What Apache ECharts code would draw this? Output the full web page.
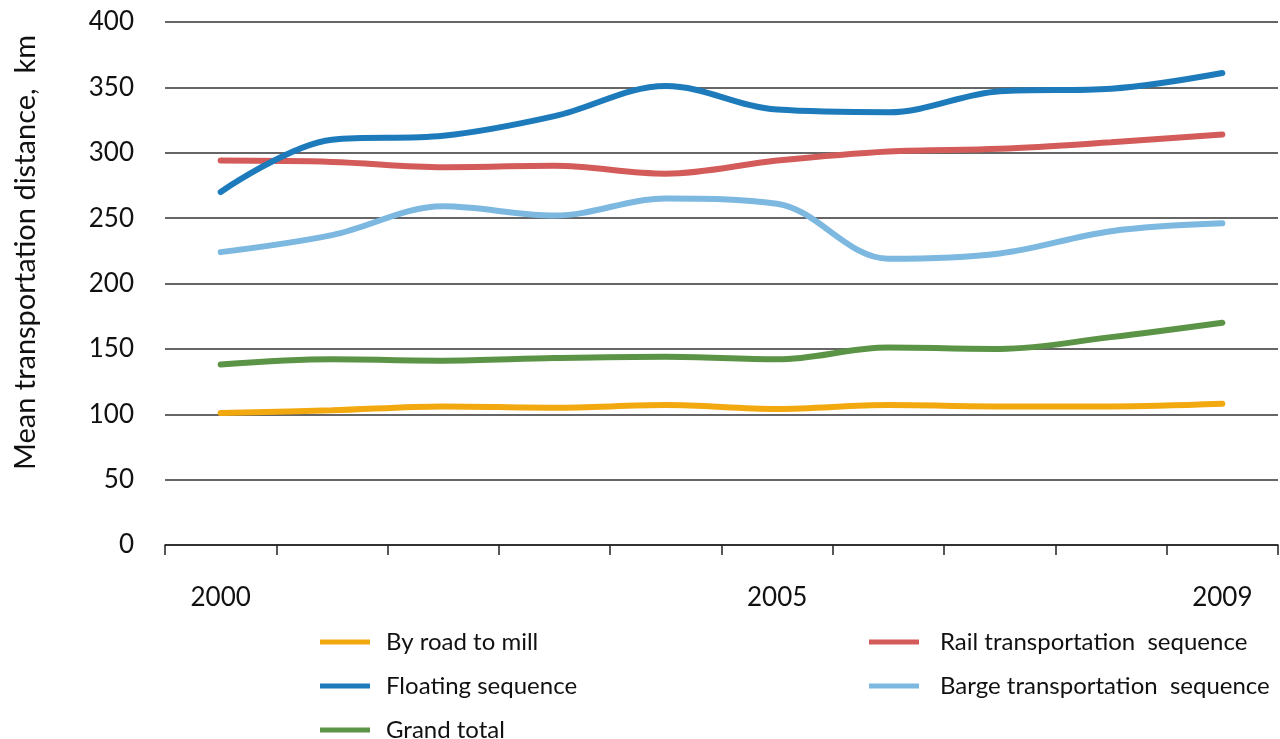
<!DOCTYPE html>
<html>
<head>
<meta charset="utf-8">
<script src="https://cdn.jsdelivr.net/npm/echarts@6/dist/echarts.min.js"></script>
<style>
html,body{margin:0;padding:0;background:#fff;}
#chart{width:1280px;height:739px;}
</style>
</head>
<body>
<div id="chart"></div>
<script>
const years = ['2000','2001','2002','2003','2004','2005','2006','2007','2008','2009'];
const shownYears = ['2000','2005','2009'];
const yTicks = [0,50,100,150,200,250,300,350,400];

const byRoad   = [101, 103, 106, 105, 107, 104, 107, 106, 106, 108];
const floating = [270, 310, 313, 328, 351, 333, 331, 347, 349, 361];
const grand    = [138, 142, 141, 143, 144, 142, 151, 150, 159, 170];
const rail     = [294, 293, 289, 290, 284, 294, 301, 303, 308, 314];
const barge    = [224, 237, 259, 252, 265, 261, 219, 223, 240, 246];

const names = {
  road: 'By road to mill',
  floating: 'Floating sequence',
  grand: 'Grand total',
  rail: 'Rail transportation  sequence',
  barge: 'Barge transportation  sequence'
};
const colors = {
  road: '#F2A90F',
  floating: '#1D7BBB',
  grand: '#5B9446',
  rail: '#D35C5A',
  barge: '#7CB8E0'
};

const FONT = 'Lato, "Open Sans", sans-serif';

function mk(key, data) {
  return {
    name: names[key], type: 'line', data: data, smooth: 0.35,
    symbol: 'none', lineStyle: {width: 6, color: colors[key], cap: 'round'},
    itemStyle: {color: colors[key]}, z: 3
  };
}

const chart = echarts.init(document.getElementById('chart'));
chart.setOption({
  animation: false,
  backgroundColor: '#fff',
  grid: {left: 165, right: 2, top: 22, bottom: 194},
  xAxis: {
    type: 'category', data: years, boundaryGap: true,
    axisLine: {lineStyle: {color: '#222', width: 1.5}},
    axisTick: {show: true, length: 10, interval: 0, lineStyle: {color: '#222', width: 1.5}},
    axisLabel: {
      interval: 0, margin: 40, fontFamily: FONT, fontSize: 26, color: '#111',
      formatter: v => shownYears.indexOf(v) >= 0 ? v : ''
    }
  },
  yAxis: {
    type: 'value', min: yTicks[0], max: yTicks[yTicks.length-1], interval: 50,
    name: 'Mean transportation distance,  km', nameLocation: 'middle', nameGap: 125,
    nameTextStyle: {fontFamily: FONT, fontSize: 29, color: '#111', padding: [0,0,0,62]},
    axisLine: {show: false}, axisTick: {show: false},
    axisLabel: {fontFamily: FONT, fontSize: 26, color: '#111', margin: 31},
    splitLine: {lineStyle: {color: '#333', width: 1.5}}
  },
  legend: [
    {
      data: [names.road, names.floating, names.grand],
      orient: 'vertical', left: 320, top: 630, height: 130, itemGap: 20,
      icon: 'rect', itemWidth: 50, itemHeight: 5, padding: 0,
      textStyle: {fontFamily: FONT, fontSize: 24, color: '#111', padding: [0,0,0,11]}
    },
    {
      data: [names.rail, names.barge],
      orient: 'vertical', left: 869, top: 630, height: 130, itemGap: 20,
      icon: 'rect', itemWidth: 50, itemHeight: 5, padding: 0,
      textStyle: {fontFamily: FONT, fontSize: 24, color: '#111', padding: [0,0,0,16]}
    }
  ],
  series: [
    mk('road', byRoad),
    mk('rail', rail),
    mk('floating', floating),
    mk('barge', barge),
    mk('grand', grand)
  ]
});
</script>
</body>
</html>
